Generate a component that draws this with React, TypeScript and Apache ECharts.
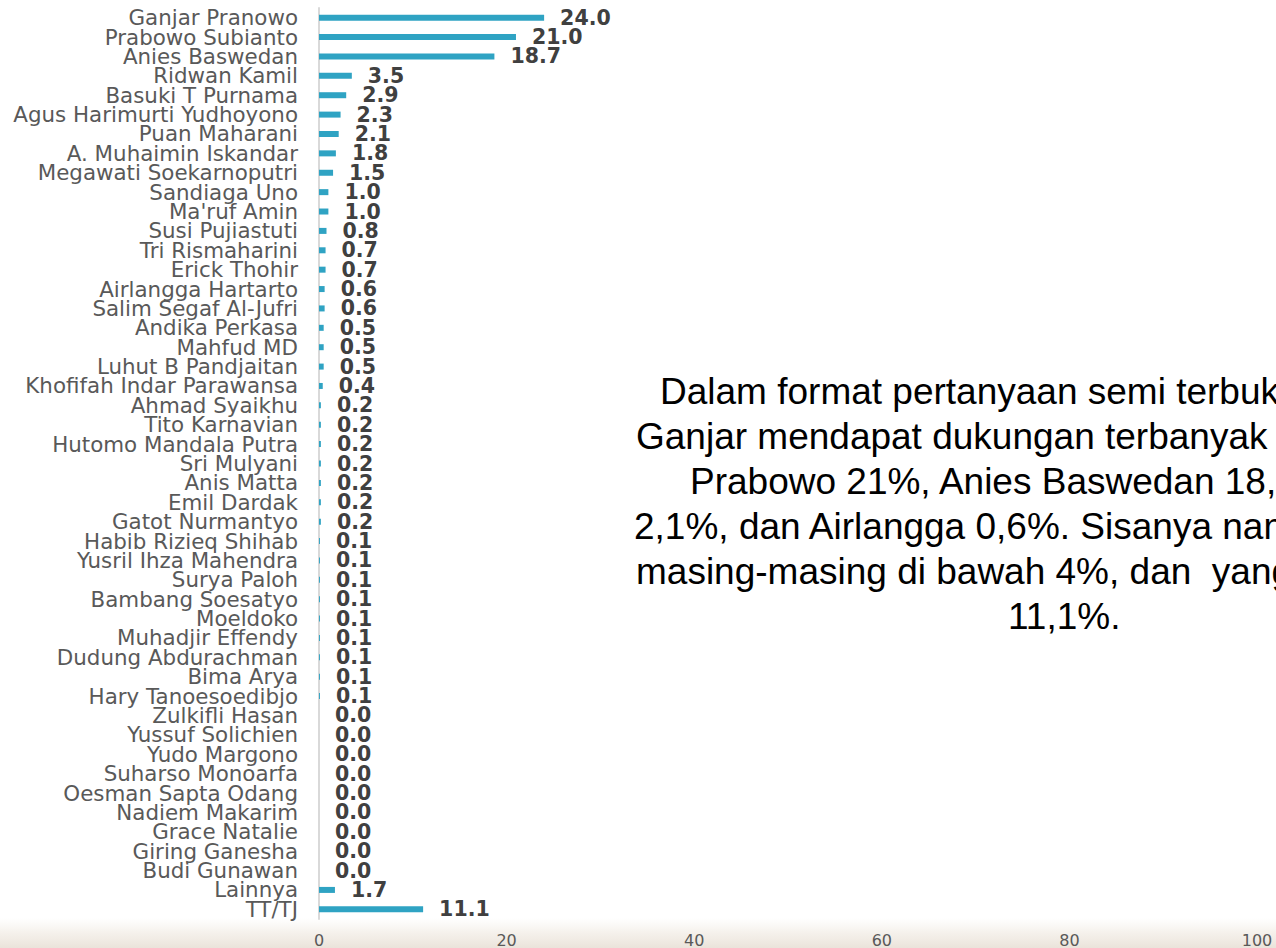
import React, { useEffect, useRef } from "react";
import * as echarts from "echarts";

const categories = [
  "Ganjar Pranowo", "Prabowo Subianto", "Anies Baswedan", "Ridwan Kamil", "Basuki T Purnama",
  "Agus Harimurti Yudhoyono", "Puan Maharani", "A. Muhaimin Iskandar", "Megawati Soekarnoputri",
  "Sandiaga Uno", "Ma'ruf Amin", "Susi Pujiastuti", "Tri Rismaharini", "Erick Thohir",
  "Airlangga Hartarto", "Salim Segaf Al-Jufri", "Andika Perkasa", "Mahfud MD", "Luhut B Pandjaitan",
  "Khofifah Indar Parawansa", "Ahmad Syaikhu", "Tito Karnavian", "Hutomo Mandala Putra",
  "Sri Mulyani", "Anis Matta", "Emil Dardak", "Gatot Nurmantyo", "Habib Rizieq Shihab",
  "Yusril Ihza Mahendra", "Surya Paloh", "Bambang Soesatyo", "Moeldoko", "Muhadjir Effendy",
  "Dudung Abdurachman", "Bima Arya", "Hary Tanoesoedibjo", "Zulkifli Hasan", "Yussuf Solichien",
  "Yudo Margono", "Suharso Monoarfa", "Oesman Sapta Odang", "Nadiem Makarim", "Grace Natalie",
  "Giring Ganesha", "Budi Gunawan", "Lainnya", "TT/TJ",
];

const values = [
  24.0, 21.0, 18.7, 3.5, 2.9,
  2.3, 2.1, 1.8, 1.5,
  1.0, 1.0, 0.8, 0.7, 0.7,
  0.6, 0.6, 0.5, 0.5, 0.5,
  0.4, 0.2, 0.2, 0.2,
  0.2, 0.2, 0.2, 0.2, 0.1,
  0.1, 0.1, 0.1, 0.1, 0.1,
  0.1, 0.1, 0.1, 0.0, 0.0,
  0.0, 0.0, 0.0, 0.0, 0.0,
  0.0, 0.0, 1.7, 11.1,
];

const xTicks = [0, 20, 40, 60, 80, 100];

const noteLines = [
  "Dalam format pertanyaan semi terbuka,",
  "Ganjar mendapat dukungan terbanyak 24%,",
  "Prabowo 21%, Anies Baswedan 18,7%, Puan",
  "2,1%, dan Airlangga 0,6%. Sisanya nama-nama",
  "masing-masing di bawah 4%, dan  yang TT/TJ",
  "11,1%.",
];
const noteStarts = [660, 636, 690, 634, 636, 1008];

export default function App() {
  const ref = useRef<HTMLDivElement>(null);

  useEffect(() => {
    document.body.style.margin = "0";
    if (!ref.current) return;
    const chart = echarts.init(ref.current, undefined, { renderer: "svg" });

    const noteElements = noteLines.map((line, i) => ({
      type: "text",
      left: noteStarts[i],
      top: 394 + i * 45 - 21,
      z: 10,
      style: {
        text: line,
        fill: "#000000",
        font: "37px 'Liberation Sans', Arial, sans-serif",
        textVerticalAlign: "top",
      },
    }));

    chart.setOption({
      animation: false,
      backgroundColor: "#ffffff",
      grid: { left: 319, right: 19, top: 8, bottom: 28, containLabel: false },
      xAxis: {
        type: "value",
        min: xTicks[0],
        max: xTicks[xTicks.length - 1],
        interval: 20,
        axisLine: { show: false },
        axisTick: { show: false },
        splitLine: { show: false },
        axisLabel: {
          color: "#595959",
          fontSize: 16,
          fontFamily: "'DejaVu Sans', Verdana, sans-serif",
          margin: 13,
        },
      },
      yAxis: {
        type: "category",
        data: categories,
        inverse: true,
        axisLine: { show: true, lineStyle: { color: "#d9d9d9", width: 2 } },
        axisTick: { show: false },
        axisLabel: {
          interval: 0,
          color: "#595959",
          fontSize: 21.4,
          fontFamily: "'DejaVu Sans', Verdana, sans-serif",
          margin: 21,
        },
      },
      graphic: [
        {
          type: "rect",
          z: -10,
          silent: true,
          shape: { x: 0, y: 918, width: 1276, height: 30 },
          style: {
            fill: new echarts.graphic.LinearGradient(0, 0, 0, 1, [
              { offset: 0, color: "rgba(240,234,226,0)" },
              { offset: 0.5, color: "rgba(238,231,222,0.6)" },
              { offset: 1, color: "rgba(232,224,214,0.9)" },
            ]),
          },
        },
        ...noteElements,
      ],
      series: [
        {
          type: "bar",
          data: values,
          barWidth: 6,
          itemStyle: { color: "#2fa3c3" },
          label: {
            show: true,
            position: "right",
            distance: 16,
            color: "#404040",
            fontSize: 20.5,
            fontWeight: "bold",
            fontFamily: "'DejaVu Sans', Verdana, sans-serif",
            formatter: (p: any) => Number(p.value).toFixed(1),
          },
        },
      ],
    });

    return () => chart.dispose();
  }, []);

  return (
    <div
      ref={ref}
      style={{ position: "absolute", left: 0, top: 0, width: 1276, height: 948 }}
    />
  );
}
